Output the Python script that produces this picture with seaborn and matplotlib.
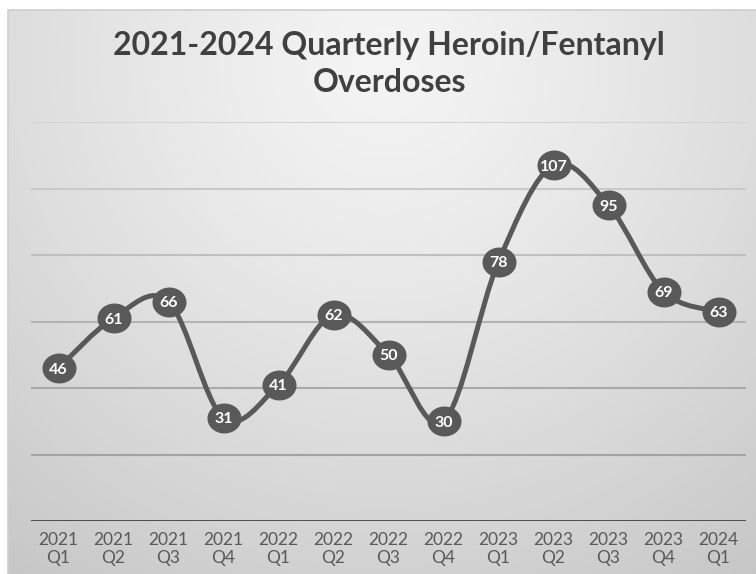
import numpy as np
import pandas as pd
import seaborn as sns
import matplotlib.pyplot as plt
from matplotlib.path import Path
from matplotlib.patches import PathPatch

# Quarterly counts
quarters = ["2021\nQ1", "2021\nQ2", "2021\nQ3", "2021\nQ4",
            "2022\nQ1", "2022\nQ2", "2022\nQ3", "2022\nQ4",
            "2023\nQ1", "2023\nQ2", "2023\nQ3", "2023\nQ4",
            "2024\nQ1"]
overdoses = [46, 61, 66, 31, 41, 62, 50, 30, 78, 107, 95, 69, 63]
grid_levels = [20, 40, 60, 80, 100, 120]

TITLE = "2021-2024 Quarterly Heroin/Fentanyl\nOverdoses"
LINE_COLOR = "#595959"

sns.set_theme(style="white")
plt.rcParams["font.family"] = ["Lato", "DejaVu Sans"]

W, H = 756, 574
fig = plt.figure(figsize=(W / 100, H / 100), dpi=100)
fig.patch.set_facecolor("white")

# Radial grey backdrop of the chart area
bg = fig.add_axes([0, 0, 1, 1])
bg.set_xlim(0, W)
bg.set_ylim(H, 0)
bg.axis("off")
x0, y0 = 8, 10
yy, xx = np.mgrid[y0:H, x0:W]
d = np.hypot(xx - 385, yy - 60) / 640.0
shade = 244 - 46 * np.clip(d, 0, 1.2) ** 1.3
img = np.dstack([shade, shade, shade]) / 255.0
bg.imshow(img, extent=(x0, W, H, y0), aspect="auto", interpolation="bilinear")
bg.plot([x0, x0, W], [H, y0, y0], color="#cfcfcf", lw=1.2)

df = pd.DataFrame({"quarter": quarters, "overdoses": overdoses})

ax = fig.add_axes([31 / W, 53 / H, 715 / W, 399 / H])
ax.set_facecolor("none")

# Gridlines, shaded slightly lighter toward the top
grid_colors = ["#a3a3a3", "#a9a9a9", "#b3b3b3", "#bfbfbf", "#c9c9c9", "#d3d3d3"]
for lvl, c in zip(grid_levels, grid_colors):
    ax.axhline(lvl, color=c, lw=1.5, zorder=1)
ax.axhline(0, color="#404040", lw=2.0, zorder=2)

# Smoothed connecting line (cubic Bezier segments through each point)
xs = np.arange(len(overdoses), dtype=float)
ys = np.asarray(overdoses, dtype=float)
n = len(xs)
verts = [(xs[0], ys[0])]
codes = [Path.MOVETO]
for i in range(n - 1):
    p0 = np.array([xs[max(i - 1, 0)], ys[max(i - 1, 0)]])
    p1 = np.array([xs[i], ys[i]])
    p2 = np.array([xs[i + 1], ys[i + 1]])
    p3 = np.array([xs[min(i + 2, n - 1)], ys[min(i + 2, n - 1)]])
    c1 = p1 + (p2 - p0) / 6.0
    c2 = p2 - (p3 - p1) / 6.0
    verts += [tuple(c1), tuple(c2), tuple(p2)]
    codes += [Path.CURVE4] * 3
ax.add_patch(PathPatch(Path(verts, codes), facecolor="none",
                       edgecolor=LINE_COLOR, lw=3.6, capstyle="round",
                       joinstyle="round", zorder=3))

# Slightly wide oval markers
t = np.linspace(0, 2 * np.pi, 60)
oval = Path(np.column_stack([np.cos(t), 0.88 * np.sin(t)]), closed=True)
sns.scatterplot(data=df, x="quarter", y="overdoses", marker=oval, s=600,
                color=LINE_COLOR, edgecolor=LINE_COLOR, linewidth=0,
                ax=ax, zorder=4, legend=False)

for i, v in enumerate(overdoses):
    ax.text(i, v, str(v), ha="center", va="center_baseline", color="white",
            fontsize=11.5, fontweight="bold", zorder=5)

ax.set_xlim(-0.5, len(quarters) - 0.5)
ax.set_ylim(0, 120)
ax.set_yticks([])
ax.set_xticks(range(len(quarters)))
ax.set_xticklabels(quarters, color="#595959", fontsize=12.5, linespacing=1.12)
ax.tick_params(axis="x", length=0, pad=8)
ax.set_xlabel("")
ax.set_ylabel("")
for s in ax.spines.values():
    s.set_visible(False)

fig.text(389 / W, 1 - 64 / H, TITLE, ha="center", va="center",
         fontsize=23, fontweight="bold", color="#404040", linespacing=1.3)

fig.savefig("out.png", dpi=100)
